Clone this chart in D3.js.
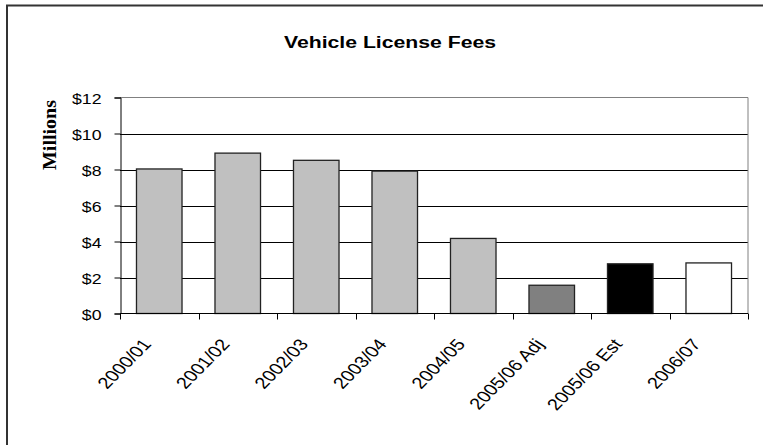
<!DOCTYPE html>
<html>
<head>
<meta charset="utf-8">
<script src="https://cdn.jsdelivr.net/npm/d3@7"></script>
<style>
  html, body { margin: 0; padding: 0; background: #fff; }
  svg { display: block; }
</style>
</head>
<body>
<svg id="chart" width="763" height="445"></svg>
<script>
// Vehicle License Fees, in millions of dollars
const categories = ["2000/01", "2001/02", "2002/03", "2003/04", "2004/05", "2005/06 Adj", "2005/06 Est", "2006/07"];
const values = [8.03, 8.91, 8.51, 7.91, 4.17, 1.57, 2.76, 2.81];
const barColors = ["#c0c0c0", "#c0c0c0", "#c0c0c0", "#c0c0c0", "#c0c0c0", "#808080", "#000000", "#ffffff"];
const yTicks = [0, 2, 4, 6, 8, 10, 12];
const titleText = "Vehicle License Fees";
const yAxisTitle = "Millions";

const svg = d3.select("#chart");
const plot = { left: 120, right: 748, top: 97.5, bottom: 313.5 };

// outer frame
svg.append("rect")
  .attr("x", 7).attr("y", 5.5)
  .attr("width", 800).attr("height", 500)
  .attr("fill", "none").attr("stroke", "#333").attr("stroke-width", 2);

const x = d3.scaleBand().domain(categories).range([plot.left, plot.right]).paddingInner(0.42).paddingOuter(0.21);
const xb = d3.scaleBand().domain(categories).range([plot.left, plot.right]);
const y = d3.scaleLinear().domain([0, 12]).range([plot.bottom, plot.top]);

// gridlines
svg.append("g").selectAll("line")
  .data(yTicks.filter(t => t > 0 && t < 12))
  .join("line")
  .attr("x1", plot.left).attr("x2", plot.right)
  .attr("y1", d => Math.round(y(d)) + 0.5).attr("y2", d => Math.round(y(d)) + 0.5)
  .attr("stroke", "#000").attr("stroke-width", 1);

// plot area frame (top and right)
svg.append("path")
  .attr("d", `M${plot.left},${plot.top}H${plot.right}V${plot.bottom}`)
  .attr("fill", "none").attr("stroke", "#808080").attr("stroke-width", 1);

// bars
svg.append("g").selectAll("rect")
  .data(values)
  .join("rect")
  .attr("x", (d, i) => x(categories[i]))
  .attr("y", d => y(d))
  .attr("width", x.bandwidth())
  .attr("height", d => y(0) - y(d))
  .attr("fill", (d, i) => barColors[i])
  .attr("stroke", "#222").attr("stroke-width", 1.3);

// y axis
const yAxis = svg.append("g").attr("transform", `translate(${plot.left + 0.5},0)`)
  .call(d3.axisLeft(y).tickValues(yTicks).tickSize(6).tickPadding(0).tickFormat(d => "$" + d));
yAxis.attr("font-size", null).attr("font-family", null);
yAxis.select(".domain").attr("stroke", "#000");
yAxis.selectAll(".tick line").attr("stroke", "#000");
yAxis.selectAll(".tick text")
  .attr("x", null).attr("dy", null)
  .attr("font-family", "Liberation Sans, Arial, sans-serif")
  .attr("font-size", 14.5).attr("fill", "#000")
  .attr("text-anchor", "end")
  .attr("transform", "translate(-19,5.5) scale(1.22,1)");

// x axis with ticks between categories
const xAxis = svg.append("g").attr("transform", `translate(0,${plot.bottom})`);
xAxis.append("line")
  .attr("x1", plot.left).attr("x2", plot.right)
  .attr("stroke", "#000").attr("stroke-width", 1.2);
xAxis.selectAll("line.tk")
  .data(categories.concat([null]))
  .join("line").attr("class", "tk")
  .attr("x1", (d, i) => Math.round(plot.left + i * xb.step()) + 0.5)
  .attr("x2", (d, i) => Math.round(plot.left + i * xb.step()) + 0.5)
  .attr("y1", 0).attr("y2", 6)
  .attr("stroke", "#000");
xAxis.selectAll("text")
  .data(categories)
  .join("text")
  .attr("transform", d => `translate(${xb(d) + xb.bandwidth() / 2 - 7},${31}) scale(1.25,1) rotate(-51.3)`)
  .attr("text-anchor", "end")
  .attr("font-family", "Liberation Sans, Arial, sans-serif")
  .attr("font-size", 16).attr("fill", "#000")
  .text(d => d);

// title
svg.append("text")
  .attr("x", 390).attr("y", 47.5)
  .attr("text-anchor", "middle")
  .attr("font-family", "Liberation Sans, Arial, sans-serif")
  .attr("font-weight", "bold").attr("font-size", 16)
  .attr("textLength", 212).attr("lengthAdjust", "spacingAndGlyphs")
  .text(titleText);

// y axis title
svg.append("text")
  .attr("transform", "translate(56,135) rotate(-90)")
  .attr("text-anchor", "middle")
  .attr("font-family", "Liberation Serif, Times New Roman, serif")
  .attr("font-weight", "bold").attr("font-size", 18)
  .attr("textLength", 70).attr("lengthAdjust", "spacingAndGlyphs")
  .text(yAxisTitle);
</script>
</body>
</html>
